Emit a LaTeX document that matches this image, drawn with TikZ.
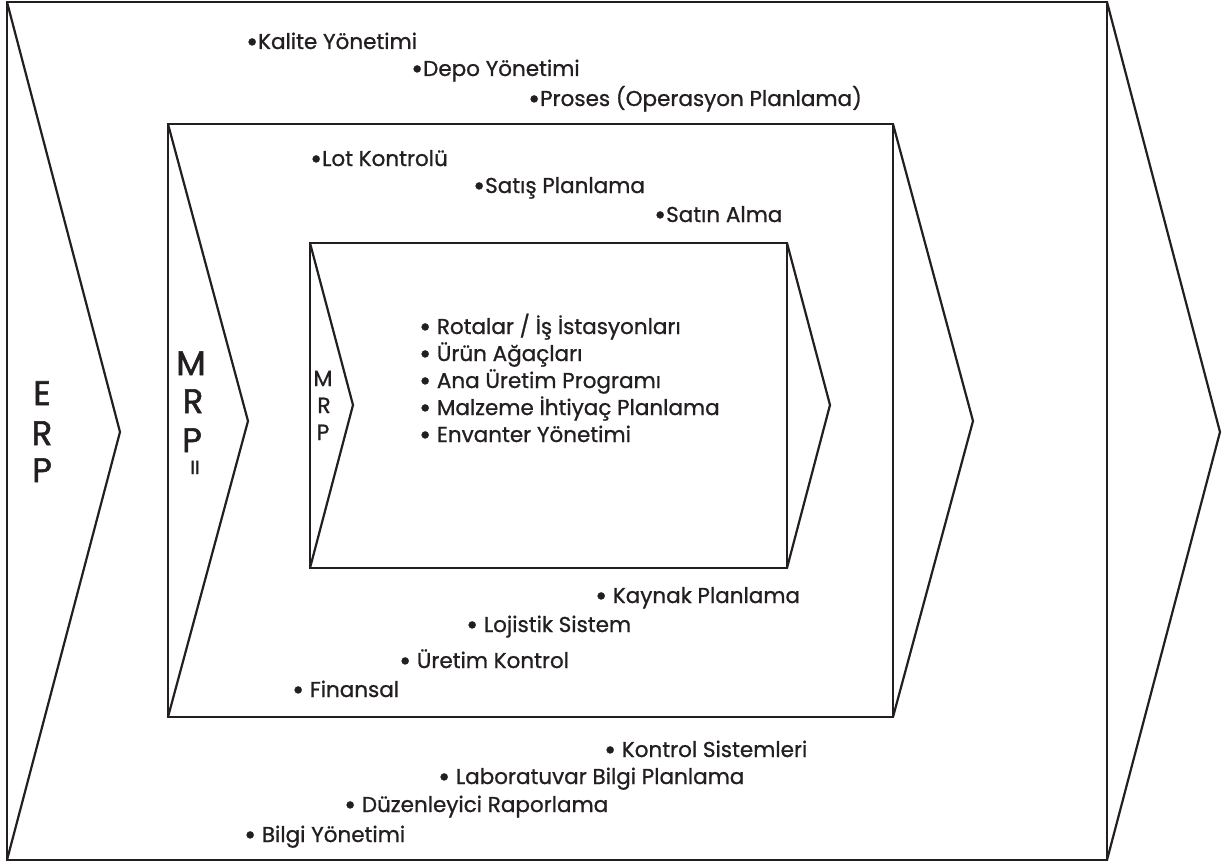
\documentclass[tikz,border=0pt]{standalone}
\usepackage{fontspec}
\setmainfont{Poppins}[FakeBold=0.9]
\newfontfamily\heavyfont{Poppins}[FakeBold=1.6]
\definecolor{ink}{HTML}{231F20}
% a larger bullet, lowered to sit at the middle of the capitals
\newcommand\blt{\smash{\raisebox{-2.6pt}{\fontsize{29}{29}\selectfont •}}}
\begin{document}
\begin{tikzpicture}[x=1pt,y=-1pt,
  frame/.style={line width=2.2pt, draw=ink, line join=miter},
  item/.style={anchor=base west, inner sep=0pt, text=ink, font=\fontsize{21.5}{21.5}\selectfont},
  biglet/.style={anchor=base, inner sep=0pt, text=ink, font=\heavyfont\fontsize{34}{34}\selectfont},
  midlet/.style={anchor=base, inner sep=0pt, text=ink, font=\fontsize{22}{22}\selectfont},
  tinylet/.style={anchor=base, inner sep=0pt, text=ink, font=\heavyfont\fontsize{19}{19}\selectfont}]
\useasboundingbox (0,0) rectangle (1227,867);

% ERP frame
\draw[frame] (7,2) rectangle (1107,860);
\draw[frame] (7,2) -- (120,432) -- (7,860);
\draw[frame] (1107,2) -- (1220,432) -- (1107,860);

% MRP II frame
\draw[frame] (168,124) rectangle (893,717);
\draw[frame] (168,124) -- (248,421) -- (168,717);
\draw[frame] (893,124) -- (973,421) -- (893,717);

% MRP frame
\draw[frame] (310,243) rectangle (787,568);
\draw[frame] (310,243) -- (353,405) -- (310,568);
\draw[frame] (787,243) -- (830,405) -- (787,568);

% side labels
\node[biglet] (erpE) at (42,405) {E};
\node[biglet] (erpR) at (42,445) {R};
\node[biglet] (erpP) at (42,482) {P};

\node[biglet] (m2M) at (191,375) {M};
\node[biglet] (m2R) at (193,413) {R};
\node[biglet] (m2P) at (192,452) {P};
\node[tinylet] (m2I) at (195,474) {II};

\node[midlet] (m1M) at (323,386) {M};
\node[midlet] (m1R) at (324,413) {R};
\node[midlet] (m1P) at (323,440) {P};

% ERP modules
\node[item] (kalite) at (246,49) {\blt Kalite Yönetimi};
\node[item] (depo) at (411,76) {\blt Depo Yönetimi};
\node[item] (proses) at (528,106) {\blt Proses (Operasyon Planlama)};
\node[item] (kontrol) at (604,757) {\blt\ Kontrol Sistemleri};
\node[item] (lab) at (438,784) {\blt\ Laboratuvar Bilgi Planlama};
\node[item] (duzen) at (344,812) {\blt\ Düzenleyici Raporlama};
\node[item] (bilgi) at (244,842) {\blt\ Bilgi Yönetimi};

% MRP II modules
\node[item] (lot) at (310,166) {\blt Lot Kontrolü};
\node[item] (satis) at (473,193) {\blt Satış Planlama};
\node[item] (satin) at (654,222) {\blt Satın Alma};
\node[item] (kaynak) at (595,603) {\blt\ Kaynak Planlama};
\node[item] (lojistik) at (466,632) {\blt\ Lojistik Sistem};
\node[item] (uretim) at (399,668) {\blt\ Üretim Kontrol};
\node[item] (finans) at (292,697) {\blt\ Finansal};

% MRP modules
\node[item] (rota) at (419,334) {\blt\ Rotalar / İş İstasyonları};
\node[item] (urun) at (419,361) {\blt\ Ürün Ağaçları};
\node[item] (ana) at (419,388) {\blt\ Ana Üretim Programı};
\node[item] (malz) at (419,415) {\blt\ Malzeme İhtiyaç Planlama};
\node[item] (env) at (419,442) {\blt\ Envanter Yönetimi};
\end{tikzpicture}
\end{document}
